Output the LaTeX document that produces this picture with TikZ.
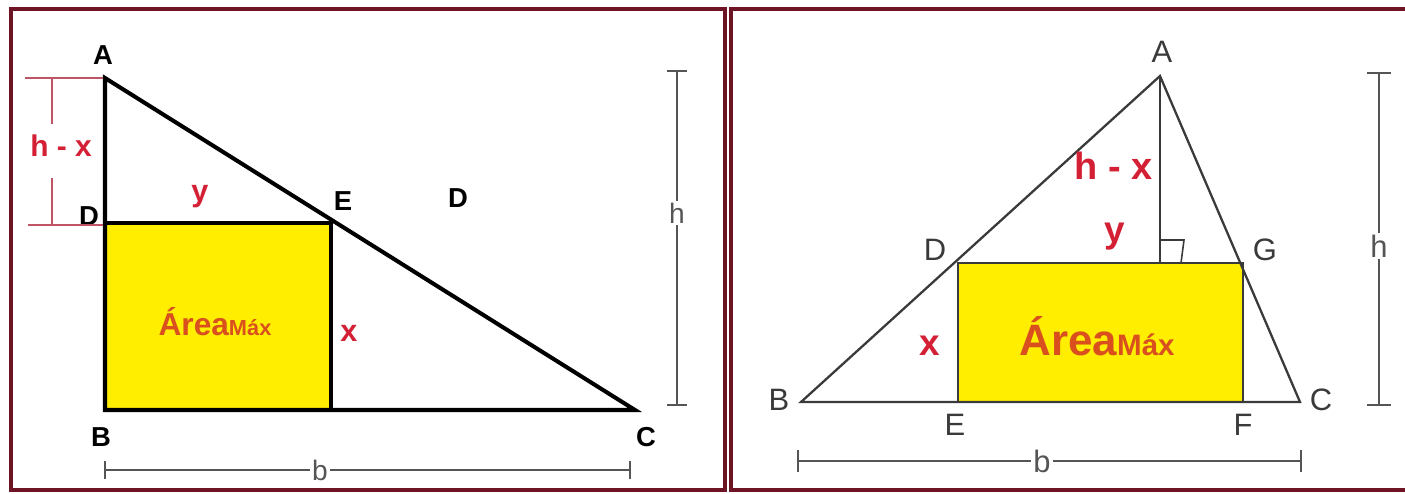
\documentclass[tikz,border=0pt]{standalone}
\usepackage{fontspec}
\setmainfont{Liberation Sans}
\definecolor{frame}{HTML}{6E1425}
\definecolor{lab}{HTML}{D42035}
\definecolor{area}{HTML}{D9501E}
\definecolor{yel}{HTML}{FFEE00}
\definecolor{dim}{HTML}{555555}
\definecolor{dimr}{HTML}{C05565}
\definecolor{thin}{HTML}{3A3A3A}
\begin{document}
\begin{tikzpicture}[x=0.01cm,y=-0.01cm,
  framebox/.style={draw=frame,line width=1.2pt},
  thick3/.style={draw=black,line width=1.15pt},
  thinline/.style={draw=thin,line width=0.65pt},
  dimline/.style={draw=dim,line width=0.55pt},
  dimred/.style={draw=dimr,line width=0.4pt},
  blab/.style={font=\fontsize{7.8}{8}\selectfont\bfseries,inner sep=0pt},
  rlab/.style={font=\fontsize{8.8}{9}\selectfont,text=thin,inner sep=0pt},
  redlab/.style={text=lab,font=\fontsize{#1}{#1}\selectfont\bfseries,inner sep=0pt},
  dimlab/.style={text=dim,fill=white,inner sep=0.6pt,font=\fontsize{#1}{#1}\selectfont}]
\useasboundingbox (0,0) rectangle (1405,494);
\fill[white] (0,0) rectangle (1405,494);
% frames
\draw[framebox] (11,9) rectangle (725,490);
\draw[framebox] (731,9) rectangle (1412,490);

% ---------- left panel ----------
\coordinate (LA) at (105,78);
\coordinate (LD) at (105,223);
\coordinate (LB) at (105,410);
\coordinate (LC) at (635,410);
\coordinate (LE) at (331,223);
\coordinate (LF) at (331,410);
\fill[yel] (LD) rectangle (LF);
\draw[thick3] (LA) -- (LB) -- (LC) -- cycle;
\draw[thick3] (LD) -- (LE) -- (LF);
\node[blab] (lA) at (103,55) {A};
\node[blab] (lD) at (89,216) {D};
\node[blab] (lE) at (343,201) {E};
\node[blab] (lB) at (101,437) {B};
\node[blab] (lC) at (646,437) {C};
\node[blab] (lD2) at (458,198) {D};
\node[redlab=8.7] (ly) at (200,197) {y};
\node[redlab=8.7] (lx) at (349,333) {x};
\node[redlab=8.5] (lhx) at (61,146) {h - x};
\node[text=area,inner sep=0pt,font=\bfseries] (lar) at (215,322)
  {\fontsize{9}{9}\selectfont Área\fontsize{6.2}{6}\selectfont Máx};
% h-x dimension
\coordinate (hxt1) at (25,78); \coordinate (hxt2) at (103,78);
\coordinate (hxb1) at (28,225); \coordinate (hxb2) at (103,225);
\coordinate (hxv1) at (52,78); \coordinate (hxv2) at (52,225);
\coordinate (hxm1) at (52,124); \coordinate (hxm2) at (52,178);
\draw[dimred] (hxt1) -- (hxt2);
\draw[dimred] (hxb1) -- (hxb2);
\draw[dimred] (hxv1) -- (hxm1);
\draw[dimred] (hxm2) -- (hxv2);
% h dimension left
\coordinate (lh1) at (677,71); \coordinate (lh2) at (677,405);
\draw[dimline] (lh1) -- (lh2);
\draw[dimline] (667,71) -- (687,71);
\draw[dimline] (667,405) -- (687,405);
\node[dimlab=8] (lh) at (677,213) {h};
% b dimension left
\coordinate (lb1) at (105,470); \coordinate (lb2) at (630,470);
\draw[dimline] (lb1) -- (lb2);
\draw[dimline] (105,461) -- (105,479);
\draw[dimline] (630,461) -- (630,479);
\node[dimlab=8] (lbb) at (320,470) {b};

% ---------- right panel ----------
\coordinate (RA) at (1160,76);
\coordinate (RB) at (801,402);
\coordinate (RC) at (1300,402);
\coordinate (RD) at (958,263);
\coordinate (RG) at (1243,263);
\coordinate (RE) at (958,402);
\coordinate (RF) at (1243,402);
\coordinate (RH) at (1160,263);
\fill[yel] (RD) rectangle (RF);
\draw[thinline] (RA) -- (RB) -- (RC) -- cycle;
\draw[thinline] (RD) -- (RG) -- (RF) -- (RE) -- cycle;
\draw[thinline] (RA) -- (RH);
\coordinate (RR1) at (1160,240); \coordinate (RR2) at (1184,240); \coordinate (RR3) at (1181,263);
\draw[thinline,line width=0.45pt] (RR1) -- (RR2) -- (RR3);
\node[rlab] (rA) at (1162,52) {A};
\node[rlab] (rB) at (779,400) {B};
\node[rlab] (rC) at (1321,400) {C};
\node[rlab] (rD) at (935,250) {D};
\node[rlab] (rG) at (1265,250) {G};
\node[rlab] (rE) at (955,425) {E};
\node[rlab] (rF) at (1243,425) {F};
\node[redlab=10.8] (rhx) at (1114,166) {h - x};
\node[redlab=10.5] (ry) at (1115,237) {y};
\node[redlab=10.5] (rx) at (930,346) {x};
\node[text=area,inner sep=0pt,font=\bfseries] (rar) at (1097,336)
  {\fontsize{12.5}{13}\selectfont Área\fontsize{8.4}{9}\selectfont Máx};
% h dimension right
\coordinate (rh1) at (1379,73); \coordinate (rh2) at (1379,405);
\draw[dimline,line width=0.7pt] (rh1) -- (rh2);
\draw[dimline,line width=0.7pt] (1367,73) -- (1391,73);
\draw[dimline,line width=0.7pt] (1367,405) -- (1391,405);
\node[dimlab=8.8] (rh) at (1379,246) {h};
% b dimension right
\coordinate (rb1) at (798,461); \coordinate (rb2) at (1301,461);
\draw[dimline,line width=0.7pt] (rb1) -- (rb2);
\draw[dimline,line width=0.7pt] (798,450) -- (798,472);
\draw[dimline,line width=0.7pt] (1301,450) -- (1301,472);
\node[dimlab=8.8] (rbb) at (1042,461) {b};
\end{tikzpicture}
\end{document}
